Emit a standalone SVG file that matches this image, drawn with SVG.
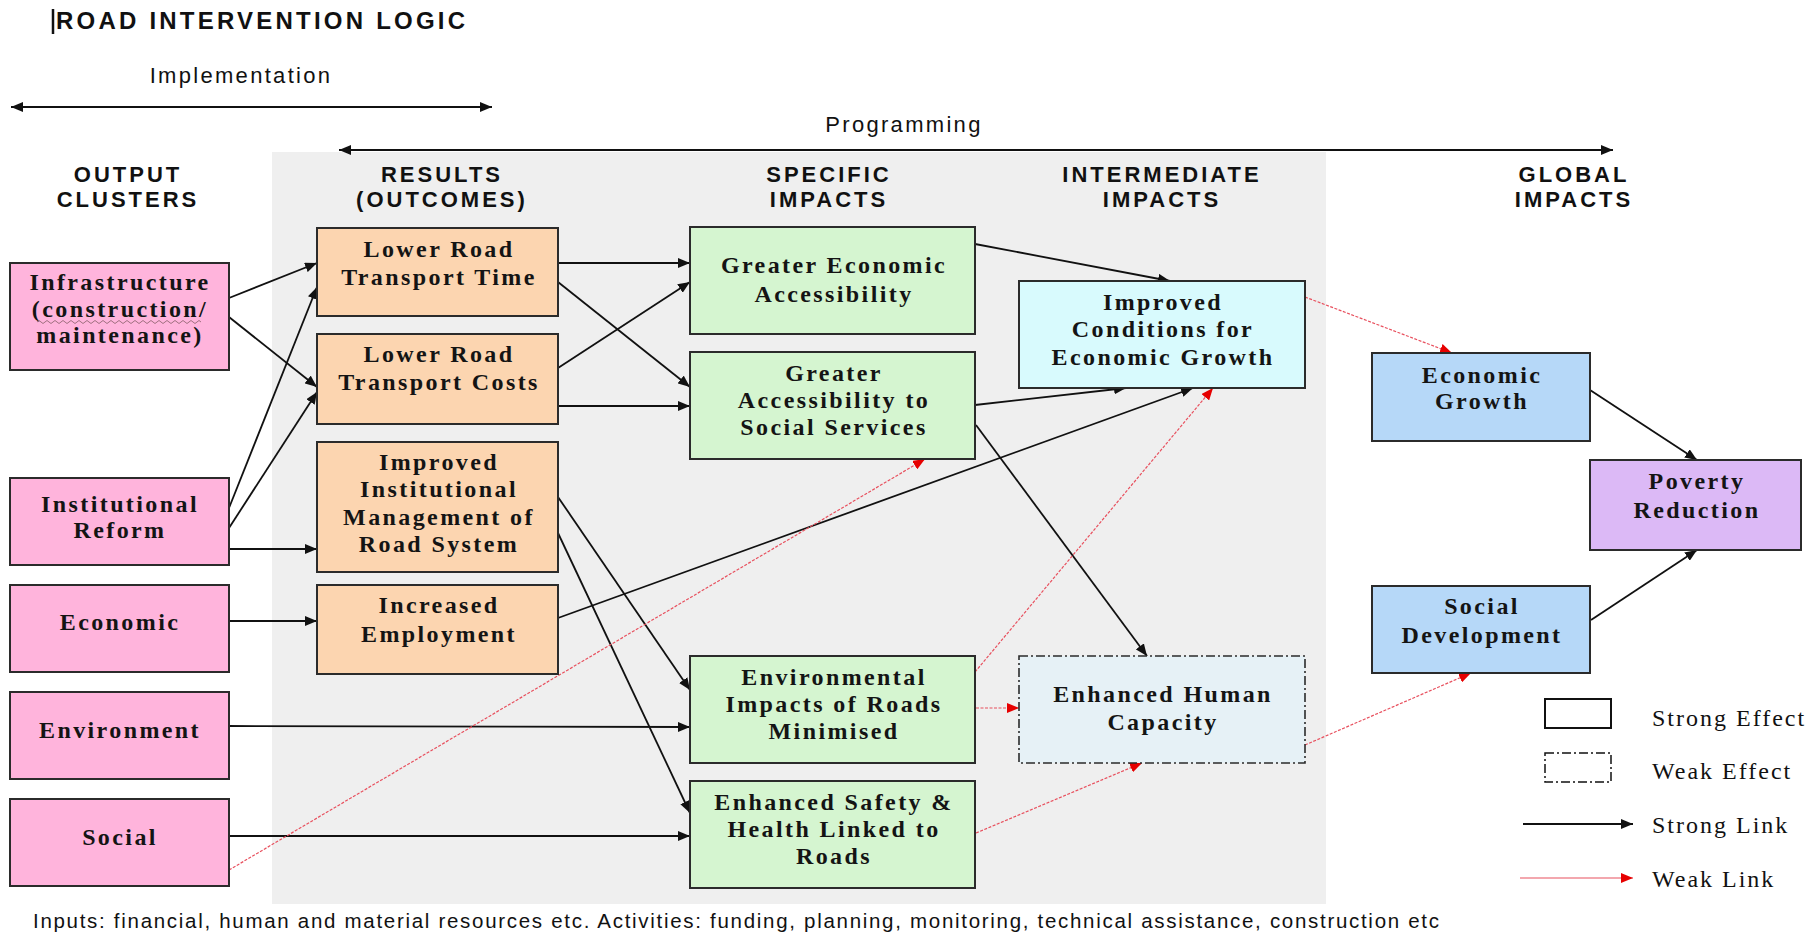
<svg xmlns="http://www.w3.org/2000/svg" width="1820" height="937" viewBox="0 0 1820 937">
<style>
.bx{stroke:#2b2b2b;stroke-width:2}
.pink{fill:#ffb4dc}
.orange{fill:#fcd5b0}
.green{fill:#d5f5d0}
.cyan{fill:#d8fafd}
.pale{fill:#e6f1f6;stroke:#2b2b2b;stroke-width:1.6;stroke-dasharray:9 3 2 3}
.blue{fill:#b6d8f8}
.purple{fill:#dcb9f6}
.t{font-family:"Liberation Serif","Times New Roman",serif;font-weight:bold;font-size:24px;letter-spacing:2.4px;fill:#141414;text-anchor:middle}
.h{font-family:"Liberation Sans",Arial,sans-serif;font-weight:bold;font-size:22px;letter-spacing:3px;fill:#111;text-anchor:middle}
.s{font-family:"Liberation Sans",Arial,sans-serif;font-size:22px;letter-spacing:2.3px;fill:#111;text-anchor:middle}
.lg{font-family:"Liberation Serif","Times New Roman",serif;font-size:24px;letter-spacing:2px;fill:#111}
.strong{stroke:#111;stroke-width:1.8;fill:none;marker-end:url(#ah)}
.weak{stroke:#e8505e;stroke-width:1.2;stroke-dasharray:3 1.5;fill:none;marker-end:url(#rh)}
</style>
<defs>
<marker id="ah" viewBox="0 0 12 10" refX="12" refY="5" markerWidth="12" markerHeight="10" markerUnits="userSpaceOnUse" orient="auto-start-reverse"><path d="M0,0 L12,5 L0,10 z" fill="#111"/></marker>
<marker id="rh" viewBox="0 0 12 10" refX="12" refY="5" markerWidth="12" markerHeight="10" markerUnits="userSpaceOnUse" orient="auto"><path d="M0,0 L12,5 L0,10 z" fill="#e60000"/></marker>
</defs>
<rect width="1820" height="937" fill="#ffffff"/>
<rect x="272" y="152" width="1054" height="752" fill="#efefef"/>

<g id="title">
<line x1="53" y1="9" x2="53" y2="34" stroke="#111" stroke-width="2.5"/>
<text x="56" y="29" font-family="Liberation Sans, Arial, sans-serif" font-weight="bold" font-size="24" fill="#111" textLength="409" lengthAdjust="spacing">ROAD INTERVENTION LOGIC</text>
</g>

<g id="phases">
<text class="s" x="241" y="83">Implementation</text>
<line x1="11" y1="107" x2="492" y2="107" stroke="#111" stroke-width="1.8" marker-start="url(#ah)" marker-end="url(#ah)"/>
<text class="s" x="904" y="132">Programming</text>
<line x1="339" y1="150" x2="1613" y2="150" stroke="#111" stroke-width="1.8" marker-start="url(#ah)" marker-end="url(#ah)"/>
</g>

<g id="headers">
<text class="h" x="128" y="182">OUTPUT</text><text class="h" x="128" y="207">CLUSTERS</text>
<text class="h" x="442" y="182">RESULTS</text><text class="h" x="442" y="207">(OUTCOMES)</text>
<text class="h" x="829" y="182">SPECIFIC</text><text class="h" x="829" y="207">IMPACTS</text>
<text class="h" x="1162" y="182">INTERMEDIATE</text><text class="h" x="1162" y="207">IMPACTS</text>
<text class="h" x="1574" y="182">GLOBAL</text><text class="h" x="1574" y="207">IMPACTS</text>
</g>

<g id="connectors">
<line class="strong" x1="229" y1="298" x2="317" y2="263"/>
<line class="strong" x1="229" y1="317" x2="317" y2="387"/>
<line class="strong" x1="229" y1="508" x2="317" y2="287"/>
<line class="strong" x1="229" y1="528" x2="317" y2="392"/>
<line class="strong" x1="229" y1="549" x2="317" y2="549"/>
<line class="strong" x1="229" y1="621" x2="317" y2="621"/>
<line class="strong" x1="558" y1="263" x2="690" y2="263"/>
<line class="strong" x1="558" y1="282" x2="690" y2="387"/>
<line class="strong" x1="558" y1="368" x2="690" y2="282"/>
<line class="strong" x1="558" y1="406" x2="690" y2="406"/>
<line class="strong" x1="558" y1="497" x2="690" y2="690"/>
<line class="strong" x1="558" y1="533" x2="690" y2="813"/>
<line class="strong" x1="229" y1="726" x2="690" y2="727"/>
<line class="strong" x1="229" y1="836" x2="690" y2="836"/>
<line class="strong" x1="558" y1="618" x2="1193" y2="388"/>
<line class="strong" x1="975" y1="244" x2="1170" y2="281"/>
<line class="strong" x1="975" y1="405" x2="1126" y2="388"/>
<line class="strong" x1="976" y1="425" x2="1147" y2="656"/>
<line class="strong" x1="1590" y1="390" x2="1697" y2="460"/>
<line class="strong" x1="1591" y1="620" x2="1697" y2="550"/>
<line class="weak" x1="229" y1="870" x2="925" y2="459"/>
<line class="weak" x1="975" y1="672" x2="1213" y2="388"/>
<line class="weak" x1="976" y1="708" x2="1019" y2="708"/>
<line class="weak" x1="976" y1="833" x2="1142" y2="763"/>
<line class="weak" x1="1305" y1="297" x2="1452" y2="353"/>
<line class="weak" x1="1305" y1="745" x2="1471" y2="673"/>
</g>

<g id="infrastructure">
<rect class="bx pink" x="10" y="263" width="219" height="107"/>
<text class="t" x="120" y="290" letter-spacing="1">Infrastructure</text>
<text class="t" x="120" y="317" letter-spacing="1">(construction/</text>
<text class="t" x="120" y="343" letter-spacing="1">maintenance)</text>
<path d="M37,322 q2,-3 4,0 t4,0 t4,0 t4,0 t4,0 t4,0 t4,0 t4,0 t4,0 t4,0 t4,0 t4,0 t4,0 t4,0 t4,0 t4,0 t4,0 t4,0 t4,0 t4,0 t4,0 t4,0 t4,0 t4,0 t4,0 t4,0 t4,0 t4,0 t4,0 t4,0 t4,0 t4,0 t4,0 t4,0 t4,0 t4,0 t4,0 t4,0 t4,0 t4,0 t4,0" fill="none" stroke="#a07080" stroke-width="1"/>
</g>
<g id="institutional-reform">
<rect class="bx pink" x="10" y="478" width="219" height="87"/>
<text class="t" x="120" y="512">Institutional</text>
<text class="t" x="120" y="538">Reform</text>
</g>
<g id="economic">
<rect class="bx pink" x="10" y="585" width="219" height="87"/>
<text class="t" x="120" y="630">Economic</text>
</g>
<g id="environment">
<rect class="bx pink" x="10" y="692" width="219" height="87"/>
<text class="t" x="120" y="738">Environment</text>
</g>
<g id="social">
<rect class="bx pink" x="10" y="799" width="219" height="87"/>
<text class="t" x="120" y="845">Social</text>
</g>

<g id="lower-time">
<rect class="bx orange" x="317" y="228" width="241" height="88"/>
<text class="t" x="439" y="257">Lower Road</text>
<text class="t" x="439" y="285">Transport Time</text>
</g>
<g id="lower-costs">
<rect class="bx orange" x="317" y="334" width="241" height="90"/>
<text class="t" x="439" y="362">Lower Road</text>
<text class="t" x="439" y="390">Transport Costs</text>
</g>
<g id="improved-institutional">
<rect class="bx orange" x="317" y="442" width="241" height="130"/>
<text class="t" x="439" y="470">Improved</text>
<text class="t" x="439" y="497">Institutional</text>
<text class="t" x="439" y="525">Management of</text>
<text class="t" x="439" y="552">Road System</text>
</g>
<g id="increased-employment">
<rect class="bx orange" x="317" y="585" width="241" height="89"/>
<text class="t" x="439" y="613">Increased</text>
<text class="t" x="439" y="642">Employment</text>
</g>

<g id="greater-economic">
<rect class="bx green" x="690" y="227" width="285" height="107"/>
<text class="t" x="834" y="273">Greater Economic</text>
<text class="t" x="834" y="302">Accessibility</text>
</g>
<g id="greater-social">
<rect class="bx green" x="690" y="352" width="285" height="107"/>
<text class="t" x="834" y="381">Greater</text>
<text class="t" x="834" y="408">Accessibility to</text>
<text class="t" x="834" y="435">Social Services</text>
</g>
<g id="environmental-impacts">
<rect class="bx green" x="690" y="656" width="285" height="107"/>
<text class="t" x="834" y="685">Environmental</text>
<text class="t" x="834" y="712">Impacts of Roads</text>
<text class="t" x="834" y="739">Minimised</text>
</g>
<g id="enhanced-safety">
<rect class="bx green" x="690" y="781" width="285" height="107"/>
<text class="t" x="834" y="810">Enhanced Safety &amp;</text>
<text class="t" x="834" y="837">Health Linked to</text>
<text class="t" x="834" y="864">Roads</text>
</g>

<g id="improved-conditions">
<rect class="bx cyan" x="1019" y="281" width="286" height="107"/>
<text class="t" x="1163" y="310">Improved</text>
<text class="t" x="1163" y="337">Conditions for</text>
<text class="t" x="1163" y="365">Economic Growth</text>
</g>
<g id="enhanced-human">
<rect class="pale" x="1019" y="656" width="286" height="107"/>
<text class="t" x="1163" y="702">Enhanced Human</text>
<text class="t" x="1163" y="730">Capacity</text>
</g>

<g id="economic-growth">
<rect class="bx blue" x="1372" y="353" width="218" height="88"/>
<text class="t" x="1482" y="383">Economic</text>
<text class="t" x="1482" y="409">Growth</text>
</g>
<g id="social-development">
<rect class="bx blue" x="1372" y="586" width="218" height="87"/>
<text class="t" x="1482" y="614">Social</text>
<text class="t" x="1482" y="643">Development</text>
</g>
<g id="poverty-reduction">
<rect class="bx purple" x="1590" y="460" width="211" height="90"/>
<text class="t" x="1697" y="489">Poverty</text>
<text class="t" x="1697" y="518">Reduction</text>
</g>

<g id="legend">
<rect x="1545" y="699" width="66" height="29" fill="#fff" stroke="#111" stroke-width="2"/>
<text class="lg" x="1652" y="726">Strong Effect</text>
<rect x="1545" y="753" width="66" height="29" fill="#fff" stroke="#111" stroke-width="1.5" stroke-dasharray="9 3 2 3"/>
<text class="lg" x="1652" y="779">Weak Effect</text>
<line x1="1523" y1="824" x2="1633" y2="824" stroke="#111" stroke-width="1.8" marker-end="url(#ah)"/>
<text class="lg" x="1652" y="833">Strong Link</text>
<line x1="1520" y1="878" x2="1633" y2="878" stroke="#e8505e" stroke-width="1.2" marker-end="url(#rh)"/>
<text class="lg" x="1652" y="887">Weak Link</text>
</g>

<g id="footer">
<text x="33" y="928" font-family="Liberation Sans, Arial, sans-serif" font-size="20.5" fill="#111" textLength="1406" lengthAdjust="spacing">Inputs: financial, human and material resources etc. Activities: funding, planning, monitoring, technical assistance, construction etc</text>
</g>
</svg>
